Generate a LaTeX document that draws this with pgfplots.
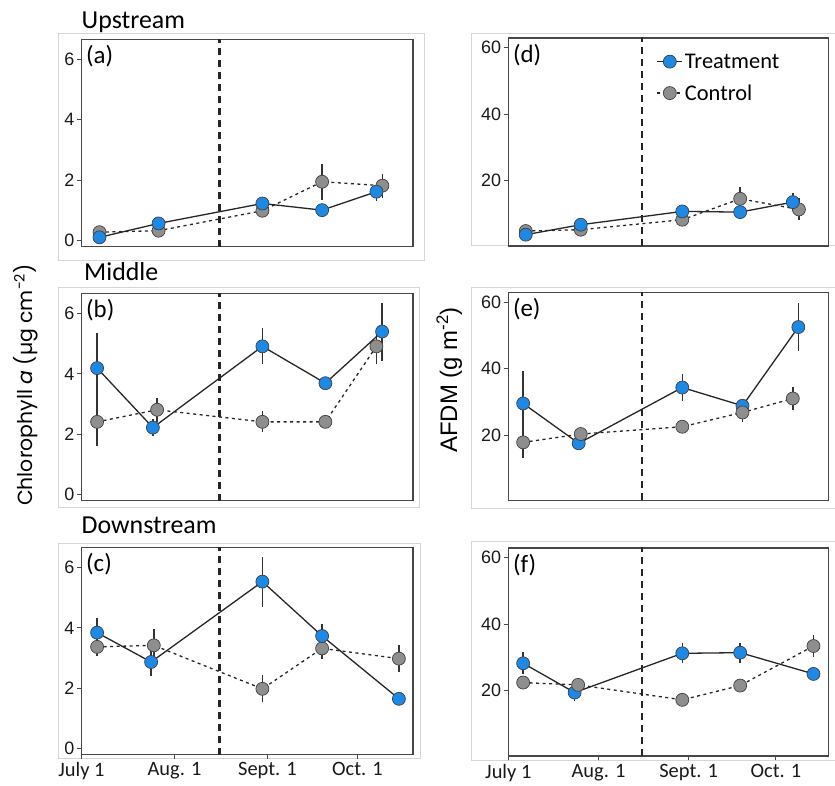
\documentclass[border=0pt]{standalone}
\usepackage{pgfplots}
\pgfplotsset{compat=1.18}
\usepackage{pgfplotstable}
\usepackage{fontspec}
\setmainfont{Carlito}
\newfontfamily\arialf{Liberation Sans}
\newfontfamily\gothf{Poppins}

\definecolor{tblue}{RGB}{30,136,229}
\definecolor{cgray}{RGB}{142,142,142}
\definecolor{framegray}{RGB}{214,214,214}

% x = days after July 1, y = mean, e = standard error
% Chlorophyll a (ug cm^-2)
\pgfplotstableread{
x y e
6.0 0.11 0.05
25.7 0.57 0.06
60.3 1.23 0.10
80.2 1.01 0.08
98.3 1.62 0.30
}\chlUpT
\pgfplotstableread{
x y e
6.0 0.28 0.08
25.7 0.33 0.08
60.3 0.99 0.10
80.2 1.95 0.60
100.3 1.82 0.40
}\chlUpC
\pgfplotstableread{
x y e
5.2 4.19 1.15
23.8 2.22 0.28
60.3 4.91 0.60
81.3 3.69 0.17
100.2 5.40 0.96
}\chlMidT
\pgfplotstableread{
x y e
5.2 2.41 0.80
25.2 2.81 0.40
60.3 2.41 0.35
81.3 2.41 0.05
98.3 4.91 0.60
}\chlMidC
\pgfplotstableread{
x y e
5.2 3.84 0.50
23.2 2.87 0.45
60.3 5.53 0.83
80.2 3.73 0.40
105.8 1.65 0.20
}\chlDownT
\pgfplotstableread{
x y e
5.2 3.37 0.30
24.1 3.42 0.55
60.3 1.98 0.45
80.2 3.32 0.35
105.8 2.98 0.45
}\chlDownC
% AFDM (g m^-2)
\pgfplotstableread{
x y e
6.0 3.7 1.0
24.9 6.7 1.0
59.8 10.7 1.2
79.7 10.5 1.0
97.8 13.5 2.7
}\afdmUpT
\pgfplotstableread{
x y e
6.0 4.8 1.0
24.9 5.2 1.0
59.8 8.2 1.0
79.7 14.5 3.5
99.9 11.3 3.3
}\afdmUpC
\pgfplotstableread{
x y e
5.1 29.5 9.8
24.2 17.5 1.0
59.8 34.3 4.2
80.5 28.8 1.5
99.7 52.5 7.3
}\afdmMidT
\pgfplotstableread{
x y e
5.1 17.8 4.6
24.9 20.3 1.5
59.8 22.5 1.0
80.5 26.8 2.8
97.8 31.0 3.5
}\afdmMidC
\pgfplotstableread{
x y e
5.1 28.2 3.3
22.8 19.4 2.5
59.8 31.2 3.0
79.7 31.4 3.0
104.9 25.0 1.0
}\afdmDownT
\pgfplotstableread{
x y e
5.1 22.4 1.0
24.0 21.7 1.0
59.8 17.2 1.0
79.7 21.5 1.0
104.9 33.4 3.3
}\afdmDownC

\pgfplotsset{
  panel/.style={
    scale only axis, xmin=0,
    tick align=outside, tick pos=left,
    axis line style={black!72, line width=1.3bp},
    every tick/.style={black!72, line width=1bp},
    major tick length=4.5bp,
    /pgf/number format/assume math mode=true,
    yticklabel style={font=\arialf\fontsize{18}{18}\selectfont, text=black!90,
      inner sep=2.5bp},
    xticklabel style={font=\fontsize{20.5}{20.5}\selectfont, text=black!90},
  },
  chl/.style={panel, width=331.5bp, height=207.2bp, xmax=110.5,
    ymin=-0.2, ymax=6.66, ytick={0,2,4,6}},
  afdm/.style={panel, width=320bp, height=208bp, xmax=110,
    ymin=0.3, ymax=62.9, ytick={20,40,60}},
  notime/.style={xtick=\empty},
  time/.style={xtick={0,31,62,92},
    xticklabels={July 1, Aug. 1, Sept. 1, Oct. 1}},
  errs/.style={error bars/.cd, y dir=both, y explicit, error mark=none,
    error bar style={black!80, line width=1.5bp, solid}},
  treat/.style={black!85, line width=1.3bp, solid, mark=*, mark size=6.5bp,
    mark options={solid, fill=tblue, draw=black!75, line width=0.7bp}, errs},
  ctrl/.style={black!85, line width=1.3bp, dash pattern=on 3bp off 3.5bp,
    mark=*, mark size=6.5bp,
    mark options={solid, fill=cgray, draw=black!75, line width=0.7bp}, errs},
}

% start of the treatment period (Aug. 16), from the bottom to the top of the frame
\newcommand\startline[1][1.9bp]{\draw[black!85, line width=#1, dash pattern=on 7bp off 5bp]
  (rel axis cs:0,0) ++(axis direction cs:46,0) -- ++(0,300bp);}
\newcommand\panellabel[1]{\node[anchor=north west, inner sep=0pt,
  font=\fontsize{25}{25}\selectfont] at (rel axis cs:0,1) [xshift=4.5bp, yshift=-6bp] {#1};}

\begin{document}
\begin{tikzpicture}[x=1bp, y=1bp]
\useasboundingbox (0,0) rectangle (835,786);

% light panel frames
\begin{scope}[framegray, line width=0.8bp]
  \draw (58,753) rectangle (424.3,526);
  \draw (58,498.3) rectangle (419,278.3);
  \draw (58,243) rectangle (420,28);
  \draw (835,752.7) -- (471.7,752.7) -- (471.7,540.3) -- (835,540.3);
  \draw (835,498.3) -- (471.7,498.3) -- (471.7,277.7) -- (835,277.7);
  \draw (835,245) -- (471.7,245) -- (471.7,25.3) -- (835,25.3);
\end{scope}

% site titles
\begin{scope}[every node/.style={anchor=base west, inner sep=0pt, font=\fontsize{26}{26}\selectfont}]
  \node at (81.5,757.7) {Upstream};
  \node at (84,505) {Middle};
  \node at (81.5,252.7) {Downstream};
\end{scope}

% y-axis titles
\node[rotate=90, anchor=base, inner sep=0pt, font=\gothf\fontsize{20.5}{20.5}\selectfont]
  at (32,401) {Chlorophyll \textit{a} (µg cm\textsuperscript{-2})};
\node[rotate=90, anchor=base, inner sep=0pt, font=\arialf\fontsize{24}{24}\selectfont]
  at (457,406) {AFDM (g m\textsuperscript{-2})};

% ---- Chlorophyll a ----
\begin{axis}[chl, notime, at={(81.5bp,746.5bp)}, anchor=north west]
  \startline[2.1bp]
  \addplot[ctrl] table[x=x, y=y, y error=e] {\chlUpC};
  \addplot[treat] table[x=x, y=y, y error=e] {\chlUpT};
  \panellabel{(a)}
\end{axis}

\begin{axis}[chl, notime, at={(81.5bp,492.5bp)}, anchor=north west]
  \startline[2.1bp]
  \addplot[ctrl] table[x=x, y=y, y error=e] {\chlMidC};
  \addplot[treat] table[x=x, y=y, y error=e] {\chlMidT};
  \panellabel{(b)}
\end{axis}

\begin{axis}[chl, time, at={(81.5bp,238.5bp)}, anchor=north west]
  \startline[2.1bp]
  \addplot[ctrl] table[x=x, y=y, y error=e] {\chlDownC};
  \addplot[treat] table[x=x, y=y, y error=e] {\chlDownT};
  \panellabel{(c)}
\end{axis}

% ---- AFDM ----
\begin{axis}[afdm, notime, at={(508.3bp,748bp)}, anchor=north west,
  reverse legend,
  legend style={draw=none, fill=none, at={(0.463,0.935)}, anchor=north west,
    font=\fontsize{22.5}{22.5}\selectfont, row sep=11bp, inner sep=0pt,
    cells={anchor=west}},
  legend image code/.code={\draw[mark repeat=2, mark phase=2, #1]
    plot coordinates {(0bp,0bp) (12.5bp,0bp) (25bp,0bp)};}]
  \startline
  \addplot[ctrl] table[x=x, y=y, y error=e] {\afdmUpC};
  \addlegendentry{Control}
  \addplot[treat] table[x=x, y=y, y error=e] {\afdmUpT};
  \addlegendentry{Treatment}
  \panellabel{(d)}
\end{axis}

\begin{axis}[afdm, notime, at={(508.3bp,493.5bp)}, anchor=north west]
  \startline
  \addplot[treat] table[x=x, y=y, y error=e] {\afdmMidT};
  \addplot[ctrl] table[x=x, y=y, y error=e] {\afdmMidC};
  \panellabel{(e)}
\end{axis}

\begin{axis}[afdm, time, at={(508.3bp,238bp)}, anchor=north west]
  \startline
  \addplot[treat] table[x=x, y=y, y error=e] {\afdmDownT};
  \addplot[ctrl] table[x=x, y=y, y error=e] {\afdmDownC};
  \panellabel{(f)}
\end{axis}
\end{tikzpicture}
\end{document}
